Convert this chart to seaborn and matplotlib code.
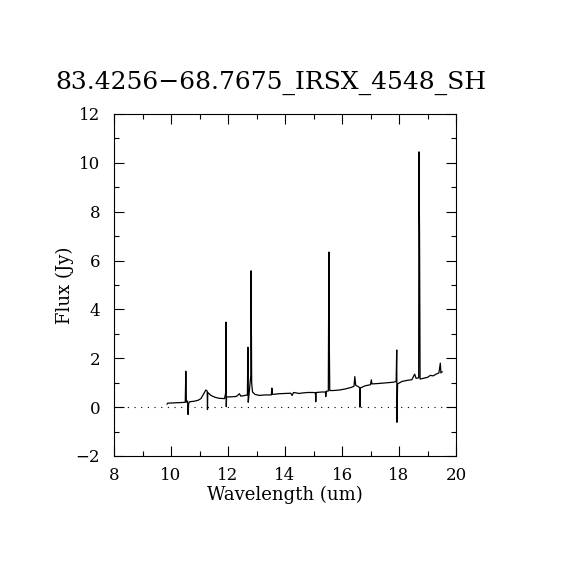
import numpy as np
import pandas as pd
import matplotlib
matplotlib.use('Agg')
import matplotlib.pyplot as plt
import seaborn as sns
from matplotlib.ticker import MultipleLocator

# spectrum points
wavelength = [9.86, 9.88, 10.0, 10.2, 10.4, 10.50, 10.52, 10.53, 10.54, 10.58,
              10.60, 10.62, 10.65, 10.8, 10.95, 11.05, 11.15, 11.22, 11.27, 11.28,
              11.29, 11.4, 11.55, 11.7, 11.88, 11.92, 11.93, 11.94, 11.95, 12.1,
              12.3, 12.4, 12.45, 12.6, 12.68, 12.70, 12.71, 12.74, 12.80, 12.81,
              12.83, 12.86, 12.95, 13.1, 13.3, 13.52, 13.54, 13.56, 13.8, 14.0,
              14.2, 14.25, 14.3, 14.5, 14.6, 14.8, 15.0, 15.07, 15.08, 15.09,
              15.3, 15.42, 15.43, 15.45, 15.52, 15.54, 15.55, 15.57, 15.7, 15.9,
              16.1, 16.3, 16.42, 16.45, 16.48, 16.55, 16.62, 16.63, 16.64, 16.8,
              17.0, 17.03, 17.05, 17.3, 17.6, 17.8, 17.9, 17.92, 17.93, 17.95,
              18.1, 18.3, 18.45, 18.55, 18.6, 18.69, 18.70, 18.72, 18.74, 18.85,
              19.0, 19.1, 19.2, 19.3, 19.4, 19.45, 19.47, 19.52]
flux = [0.12, 0.16, 0.17, 0.18, 0.19, 0.20, 1.47, 0.85, 0.20, 0.25,
        -0.30, 0.15, 0.22, 0.24, 0.28, 0.35, 0.55, 0.70, 0.66, -0.10,
        0.60, 0.48, 0.40, 0.36, 0.35, 0.60, 3.48, 0.02, 0.42, 0.42,
        0.44, 0.55, 0.45, 0.48, 0.50, 2.45, 0.20, 0.55, 1.30, 5.58,
        1.00, 0.62, 0.52, 0.48, 0.50, 0.50, 0.78, 0.52, 0.55, 0.56,
        0.57, 0.48, 0.60, 0.56, 0.58, 0.60, 0.60, 0.58, 0.22, 0.60,
        0.62, 0.62, 0.43, 0.65, 0.66, 6.35, 3.30, 0.68, 0.68, 0.70,
        0.74, 0.80, 0.85, 1.25, 0.90, 0.85, 0.80, 0.00, 0.78, 0.87,
        0.92, 1.12, 0.95, 0.97, 1.00, 1.02, 1.05, 2.34, -0.62, 0.95,
        1.05, 1.10, 1.12, 1.35, 1.18, 1.20, 10.45, 7.18, 1.15, 1.18,
        1.22, 1.30, 1.28, 1.35, 1.40, 1.80, 1.40, 1.45]

x_ticks = [8, 10, 12, 14, 16, 18, 20]
y_ticks = [-2, 0, 2, 4, 6, 8, 10, 12]

df = pd.DataFrame({'wave': wavelength, 'flux': flux})

sns.set_style('ticks')
plt.rcParams['font.family'] = ['DejaVu Serif']
plt.rcParams['axes.unicode_minus'] = True
plt.rcParams['text.color'] = 'black'
plt.rcParams['axes.labelcolor'] = 'black'
plt.rcParams['xtick.color'] = 'black'
plt.rcParams['ytick.color'] = 'black'

fig = plt.figure(figsize=(5.7, 5.7), dpi=100)
ax = fig.add_axes([0.2, 0.2, 0.6, 0.6])

sns.lineplot(data=df, x='wave', y='flux', ax=ax, color='black', linewidth=0.9,
             sort=False, estimator=None)
ax.axhline(0, color='black', linewidth=0.8, linestyle=(0, (1, 5)))

ax.set_xlim(8, 20)
ax.set_ylim(-2, 12)
ax.set_xticks(x_ticks)
ax.set_yticks(y_ticks)
ax.xaxis.set_minor_locator(MultipleLocator(1))
ax.yaxis.set_minor_locator(MultipleLocator(1))
ax.tick_params(which='both', direction='in', top=True, right=True, colors='black',
               width=0.8, labelsize=12, labelcolor='black')
ax.tick_params(which='major', length=7, pad=8)
ax.tick_params(axis='y', which='major', pad=10)
ax.tick_params(which='minor', length=3.5)
for s in ax.spines.values():
    s.set_linewidth(0.8)
    s.set_color('black')

ax.set_xlabel('Wavelength (um)', fontsize=13, labelpad=1, color='black')
ax.set_ylabel('Flux (Jy)', fontsize=13, labelpad=1, color='black')
ax.set_title('83.4256\u221268.7675_IRSX_4548_SH', fontsize=18, pad=18,
             color='black', x=0.46)

fig.savefig('out.png', dpi=100, facecolor='white')
